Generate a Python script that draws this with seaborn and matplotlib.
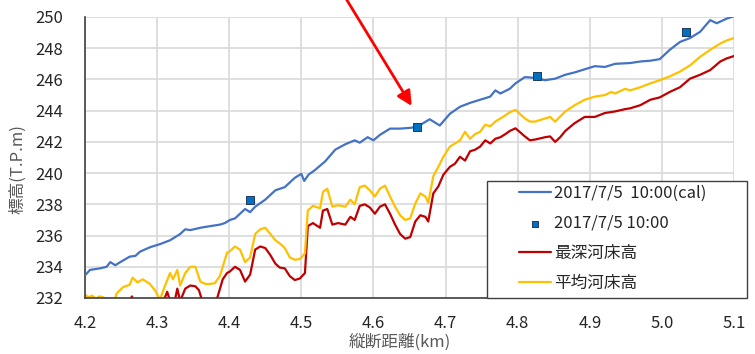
import numpy as np
import pandas as pd
import matplotlib
matplotlib.use("Agg")
import matplotlib.pyplot as plt
import seaborn as sns
from matplotlib.patches import Rectangle

# 2017/7/5 10:00(cal) - calculated water level
cal_km = [4.200, 4.207, 4.221, 4.230, 4.235, 4.242, 4.249, 4.262, 4.270, 4.276,
          4.290, 4.304, 4.318, 4.332, 4.339, 4.346, 4.360, 4.373, 4.387, 4.394,
          4.401, 4.408, 4.422, 4.429, 4.436, 4.450, 4.464, 4.477, 4.491, 4.500,
          4.504, 4.510, 4.519, 4.533, 4.547, 4.561, 4.574, 4.581, 4.592, 4.600,
          4.609, 4.623, 4.637, 4.651, 4.660, 4.678, 4.692, 4.706, 4.720, 4.734,
          4.748, 4.762, 4.769, 4.776, 4.789, 4.797, 4.810, 4.824, 4.838, 4.852,
          4.866, 4.879, 4.893, 4.907, 4.921, 4.935, 4.956, 4.970, 4.984, 4.997,
          5.011, 5.025, 5.039, 5.053, 5.067, 5.076, 5.090, 5.100]
cal_wl = [233.45, 233.8, 233.9, 234.0, 234.3, 234.1, 234.3, 234.65, 234.7, 234.96,
          235.25, 235.45, 235.7, 236.1, 236.4, 236.35, 236.5, 236.6, 236.7, 236.8,
          237.0, 237.1, 237.7, 237.5, 237.85, 238.3, 238.9, 239.1, 239.7, 239.95,
          239.5, 239.9, 240.2, 240.75, 241.5, 241.85, 242.1, 241.95, 242.3, 242.1,
          242.45, 242.85, 242.85, 242.9, 242.95, 243.45, 243.05, 243.8, 244.25, 244.5,
          244.7, 244.9, 245.3, 245.1, 245.4, 245.75, 246.15, 246.1, 245.95, 246.05,
          246.3, 246.45, 246.65, 246.85, 246.8, 247.0, 247.05, 247.15, 247.2, 247.3,
          247.9, 248.4, 248.65, 249.05, 249.8, 249.6, 249.9, 250.05]

# 2017/7/5 10:00 - observed points
obs_km = [4.429, 4.660, 4.827, 5.034]
obs_wl = [238.25, 242.95, 246.2, 249.05]

# 最深河床高
deep_km = [4.200, 4.260, 4.265, 4.270, 4.308, 4.314, 4.318, 4.324, 4.328, 4.332,
           4.339, 4.346, 4.353, 4.358, 4.362, 4.380, 4.384, 4.391, 4.397, 4.401,
           4.408, 4.415, 4.422, 4.429, 4.436, 4.443, 4.450, 4.457, 4.464, 4.470,
           4.477, 4.484, 4.491, 4.498, 4.505, 4.509, 4.516, 4.526, 4.530, 4.536,
           4.543, 4.551, 4.561, 4.568, 4.574, 4.581, 4.588, 4.595, 4.602, 4.609,
           4.616, 4.623, 4.630, 4.637, 4.644, 4.651, 4.658, 4.665, 4.672, 4.676,
           4.683, 4.690, 4.697, 4.706, 4.713, 4.720, 4.727, 4.734, 4.741, 4.748,
           4.755, 4.762, 4.769, 4.776, 4.783, 4.789, 4.797, 4.810, 4.817, 4.824,
           4.838, 4.845, 4.852, 4.859, 4.866, 4.879, 4.893, 4.907, 4.921, 4.935,
           4.949, 4.956, 4.970, 4.984, 4.997, 5.011, 5.025, 5.039, 5.053, 5.067,
           5.081, 5.090, 5.100]
deep_z = [231.5, 231.6, 232.1, 231.6, 231.7, 232.4, 231.8, 231.7, 232.6, 231.8,
          232.6, 232.8, 232.75, 232.5, 231.9, 231.6, 232.1, 233.2, 233.6, 233.7,
          234.0, 233.8, 233.05, 233.5, 235.1, 235.3, 235.2, 234.75, 234.2, 233.95,
          233.9, 233.4, 233.15, 233.25, 233.6, 236.6, 236.8, 236.5, 237.6, 237.7,
          236.7, 236.8, 236.7, 237.2, 237.0, 237.9, 238.0, 237.8, 237.4, 237.85,
          238.0, 237.4, 236.7, 236.1, 235.8, 235.9, 236.9, 237.3, 237.2, 236.9,
          238.7, 239.15, 239.9, 240.4, 240.6, 241.05, 240.8, 241.4, 241.5, 241.7,
          242.1, 241.9, 242.2, 242.3, 242.5, 242.7, 242.87, 242.35, 242.1, 242.15,
          242.3, 242.35, 242.0, 242.3, 242.7, 243.2, 243.6, 243.6, 243.85, 243.95,
          244.1, 244.15, 244.35, 244.7, 244.85, 245.2, 245.5, 246.05, 246.3, 246.6,
          247.15, 247.35, 247.5]

# 平均河床高
mean_km = [4.200, 4.205, 4.210, 4.215, 4.220, 4.225, 4.232, 4.240, 4.244, 4.253,
           4.262, 4.266, 4.273, 4.280, 4.290, 4.297, 4.304, 4.311, 4.318, 4.322,
           4.328, 4.332, 4.339, 4.346, 4.353, 4.360, 4.367, 4.373, 4.380, 4.387,
           4.391, 4.397, 4.401, 4.408, 4.415, 4.422, 4.429, 4.436, 4.443, 4.450,
           4.457, 4.464, 4.470, 4.477, 4.484, 4.491, 4.498, 4.505, 4.509, 4.516,
           4.526, 4.530, 4.536, 4.543, 4.551, 4.561, 4.568, 4.574, 4.581, 4.588,
           4.595, 4.602, 4.609, 4.616, 4.623, 4.630, 4.637, 4.644, 4.651, 4.658,
           4.665, 4.672, 4.676, 4.683, 4.690, 4.697, 4.706, 4.713, 4.720, 4.727,
           4.734, 4.741, 4.748, 4.755, 4.762, 4.769, 4.776, 4.783, 4.789, 4.797,
           4.810, 4.817, 4.824, 4.838, 4.845, 4.852, 4.866, 4.879, 4.893, 4.907,
           4.921, 4.930, 4.935, 4.949, 4.956, 4.970, 4.984, 4.997, 5.011, 5.025,
           5.039, 5.053, 5.067, 5.081, 5.090, 5.100]
mean_z = [232.2, 232.05, 232.15, 231.95, 232.1, 232.05, 231.8, 231.7, 232.3, 232.7,
          232.85, 233.3, 233.0, 233.2, 232.9, 232.5, 231.9, 232.8, 233.6, 233.2,
          233.8, 232.8, 233.6, 234.0, 234.0, 233.05, 232.9, 232.9, 232.95, 233.4,
          234.0, 234.9, 235.0, 235.3, 235.1, 234.3, 234.6, 236.1, 236.4, 236.5,
          236.1, 235.7, 235.5, 235.2, 234.6, 234.45, 234.5, 234.85, 237.6, 237.9,
          237.75, 238.8, 239.0, 237.85, 237.95, 237.85, 238.3, 238.0, 239.1, 239.2,
          238.9, 238.5, 239.0, 239.2, 238.5, 237.85, 237.3, 237.0, 237.1, 238.05,
          238.7, 238.5, 238.1, 239.8, 240.4, 241.05, 241.7, 241.9, 242.1, 242.65,
          242.2, 242.5, 242.65, 243.1, 243.0, 243.3, 243.5, 243.7, 243.9, 244.05,
          243.5, 243.3, 243.3, 243.5, 243.6, 243.3, 243.95, 244.35, 244.7, 244.9,
          245.0, 245.2, 245.1, 245.4, 245.3, 245.5, 245.75, 245.95, 246.2, 246.5,
          246.9, 247.45, 247.9, 248.3, 248.5, 248.65]

x_ticks = [4.2, 4.3, 4.4, 4.5, 4.6, 4.7, 4.8, 4.9, 5.0, 5.1]
y_ticks = [232, 234, 236, 238, 240, 242, 244, 246, 248, 250]

sns.set_style("white")
plt.rcParams['font.family'] = ['Noto Sans CJK JP', 'DejaVu Sans']

fig = plt.figure(figsize=(7.55, 3.54), dpi=100)
ax = fig.add_axes([85 / 755, 56 / 354, 649 / 755, 281 / 354])

sns.lineplot(x=cal_km, y=cal_wl, ax=ax, color='#4472C4', lw=1.6, sort=False,
             estimator=None, label='2017/7/5  10:00(cal)', zorder=3)
sns.scatterplot(x=obs_km, y=obs_wl, ax=ax, marker='s', s=30, color='#0070C0',
                edgecolor='#1F3864', linewidth=0.7, label='2017/7/5 10:00', zorder=4)
sns.lineplot(x=deep_km, y=deep_z, ax=ax, color='#C00000', lw=1.6, sort=False,
             estimator=None, label='最深河床高', zorder=2)
sns.lineplot(x=mean_km, y=mean_z, ax=ax, color='#FFC000', lw=1.6, sort=False,
             estimator=None, label='平均河床高', zorder=2)

ax.set_xlim(4.2, 5.1)
ax.set_ylim(232, 250)
ax.set_xticks(x_ticks)
ax.set_xticklabels([f'{t:.1f}' for t in x_ticks])
ax.set_yticks(y_ticks)
ax.grid(True, color='#D9D9D9', lw=1.2)
ax.set_axisbelow(True)
for s in ['top', 'right']:
    ax.spines[s].set_visible(False)
for s in ['left', 'bottom']:
    ax.spines[s].set_color('#404040')
    ax.spines[s].set_linewidth(1.2)
ax.tick_params(length=0, labelsize=12, labelcolor='#262626')
ax.tick_params(axis='y', pad=16)
ax.tick_params(axis='x', pad=12)

ax.set_xlabel('縦断距離(km)', fontsize=12, color='#595959', va='center')
ax.set_ylabel('標高(T.P.m)', fontsize=12, color='#595959', va='center')
ax.xaxis.set_label_coords(0.485, -0.157)
ax.yaxis.set_label_coords(-0.103, 0.46)

# legend box
rect = Rectangle((487 / 755, 1 - 298 / 354), 260 / 755, 117 / 354,
                 transform=fig.transFigure, facecolor='white', edgecolor='#404040',
                 lw=1.0, zorder=5, clip_on=False)
ax.add_patch(rect)
leg = ax.legend(loc='upper left', bbox_to_anchor=(519 / 755, 1 - 185 / 354),
                bbox_transform=fig.transFigure, frameon=False, fontsize=12,
                handlelength=1.9, handletextpad=0.2, labelspacing=0.78,
                borderpad=0, borderaxespad=0, markerscale=0.8)
leg.set_zorder(6)
for t in leg.get_texts():
    t.set_color('#262626')

# red arrow
ax.annotate('', xy=(4.655, 244.15), xytext=(4.559, 251.4),
            arrowprops=dict(arrowstyle='-|>', color='#FF0000', lw=2, mutation_scale=22),
            annotation_clip=False)

fig.savefig('out.png', dpi=100)
